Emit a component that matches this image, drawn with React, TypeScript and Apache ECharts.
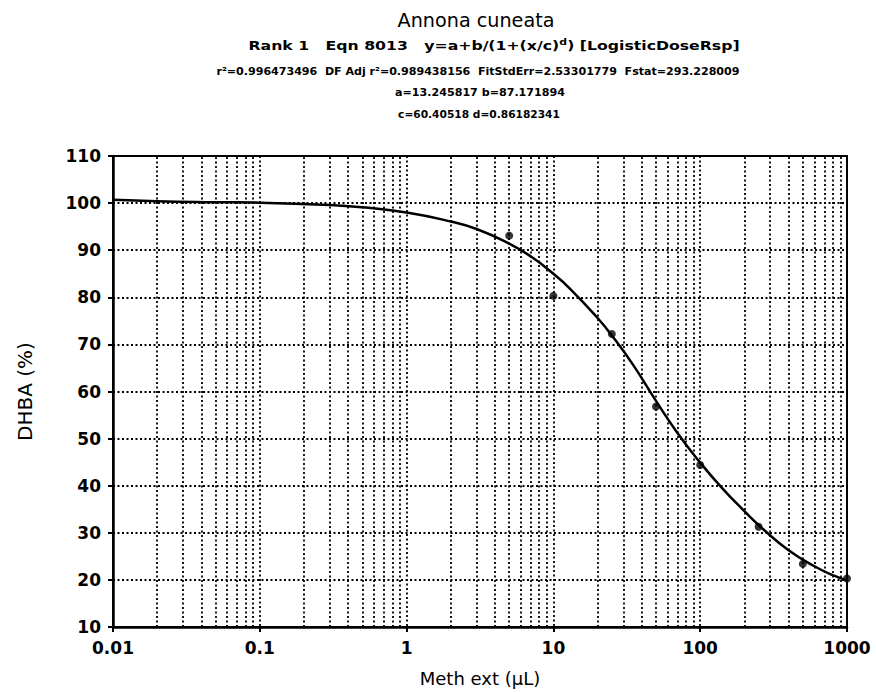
import React, { useEffect, useRef } from "react";
import * as echarts from "echarts";

// Measured data points (Meth ext µL, DHBA %)
const doseX = [5, 10, 25, 50, 100, 250, 500, 1000];
const dhbaY = [93.1, 80.3, 72.2, 56.8, 44.4, 31.3, 23.4, 20.3];

// Fitted curve
const fitX = [0.01, 0.02, 0.05, 0.1, 0.3, 0.5, 1, 2, 3, 5, 7, 10, 13, 20, 25, 35, 50, 70, 100, 140, 200, 270, 400, 600, 800, 1000];
const fitY = [100.7, 100.4, 100.2, 100.1, 99.6, 99.1, 98.0, 96.1, 94.5, 91.4, 88.7, 85.0, 81.8, 75.6, 71.9, 65.6, 58.0, 51.2, 44.9, 39.6, 34.6, 30.7, 26.3, 22.9, 21.0, 19.9];

const xDecades = [0.01, 0.1, 1, 10, 100];
const xTickLabels = ["0.01", "0.1", "1", "10", "100", "1000"];
const yMin = 10;
const yMax = 110;
const yStep = 10;

const titleText = "Annona cuneata";
const line2Plain = "Rank 1   Eqn 8013   y=a+b/(1+(x/c)d) [LogisticDoseRsp]";
const line2Rich = "Rank 1   Eqn 8013   y=a+b/(1+(x/c){s|d}) [LogisticDoseRsp]";
const line3 = "r²=0.996473496  DF Adj r²=0.989438156  FitStdErr=2.53301779  Fstat=293.228009";
const line4 = "a=13.245817 b=87.171894";
const line5 = "c=60.40518 d=0.86182341";

const SANS = "'DejaVu Sans', 'Liberation Sans', Arial, sans-serif";

function measure(text: string, font: string): number {
  const c = document.createElement("canvas").getContext("2d");
  if (!c) return 1;
  c.font = font;
  return c.measureText(text).width || 1;
}

export default function App() {
  const ref = useRef<HTMLDivElement>(null);
  useEffect(() => {
    if (!ref.current) return;
    const chart = echarts.init(ref.current, null, { renderer: "svg" });
    const minorX: number[] = [];
    xDecades.forEach((d) => {
      for (let m = 2; m <= 9; m++) minorX.push(+(d * m).toPrecision(3));
    });
    const dotted = { color: "#000", type: [2, 2.5] as any, width: 1.8 };

    const header = (text: string, plain: string, font: string, cx: number, cy: number, w: number, rich?: any) => ({
      type: "text",
      x: cx,
      y: cy,
      scaleX: w / measure(plain, font),
      style: { text, font, fill: "#000", align: "center", verticalAlign: "middle", rich },
    });

    chart.setOption({
      animation: false,
      backgroundColor: "#fff",
      grid: {
        left: 113,
        right: 29,
        top: 156,
        bottom: 60,
        show: true,
        borderColor: "#000",
        borderWidth: 2,
        backgroundColor: "transparent",
      },
      xAxis: {
        type: "log",
        logBase: 10,
        min: 0.01,
        max: 1000,
        name: "Meth ext (µL)",
        nameLocation: "middle",
        nameGap: 42,
        nameTextStyle: { fontFamily: SANS, fontSize: 18, color: "#000" },
        axisLine: { lineStyle: { color: "#000", width: 2.5 } },
        axisTick: { show: true, length: 5, lineStyle: { color: "#000", width: 2 } },
        axisLabel: {
          fontFamily: SANS,
          fontWeight: "bold",
          fontSize: 17,
          color: "#000",
          margin: 12,
          formatter: (v: number) => {
            const i = Math.round(Math.log10(v)) + 2;
            return xTickLabels[i] ?? "";
          },
        },
        splitLine: { show: true, lineStyle: dotted },
      },
      yAxis: {
        type: "value",
        min: yMin,
        max: yMax,
        interval: yStep,
        name: "DHBA (%)",
        nameLocation: "middle",
        nameGap: 78,
        nameTextStyle: { fontFamily: SANS, fontSize: 20, color: "#000" },
        axisLine: { show: true, lineStyle: { color: "#000", width: 2.5 } },
        axisTick: { show: true, length: 5, lineStyle: { color: "#000", width: 2 } },
        axisLabel: { fontFamily: SANS, fontWeight: "bold", fontSize: 17, color: "#000", margin: 12 },
        splitLine: { show: true, lineStyle: dotted },
      },
      graphic: [
        header(titleText, titleText, `19px ${SANS}`, 476, 21, 157),
        header(line2Rich, line2Plain, `bold 13px ${SANS}`, 494, 45, 495, {
          s: { font: `bold 9px ${SANS}`, verticalAlign: "top", padding: [0, 0, 6, 0] },
        }),
        header(line3, line3, `bold 11px ${SANS}`, 478, 72, 524),
        header(line4, line4, `bold 11px ${SANS}`, 480, 93, 170),
        header(line5, line5, `bold 11px ${SANS}`, 479, 114, 162),
      ],
      series: [
        {
          type: "line",
          data: [],
          z: 1,
          silent: true,
          markLine: {
            silent: true,
            symbol: "none",
            label: { show: false },
            lineStyle: dotted,
            data: minorX.map((v) => ({ xAxis: v })),
          },
        },
        {
          type: "line",
          data: fitX.map((x, i) => [x, fitY[i]]),
          smooth: 0.5,
          showSymbol: false,
          z: 3,
          lineStyle: { color: "#000", width: 2.5 },
        },
        {
          type: "scatter",
          data: doseX.map((x, i) => [x, dhbaY[i]]),
          symbol: "circle",
          symbolSize: 8,
          z: 4,
          itemStyle: { color: "#000" },
        },
      ],
    });
    return () => chart.dispose();
  }, []);
  return <div ref={ref} style={{ width: 876, height: 692, position: "absolute", left: 0, top: 0 }} />;
}
